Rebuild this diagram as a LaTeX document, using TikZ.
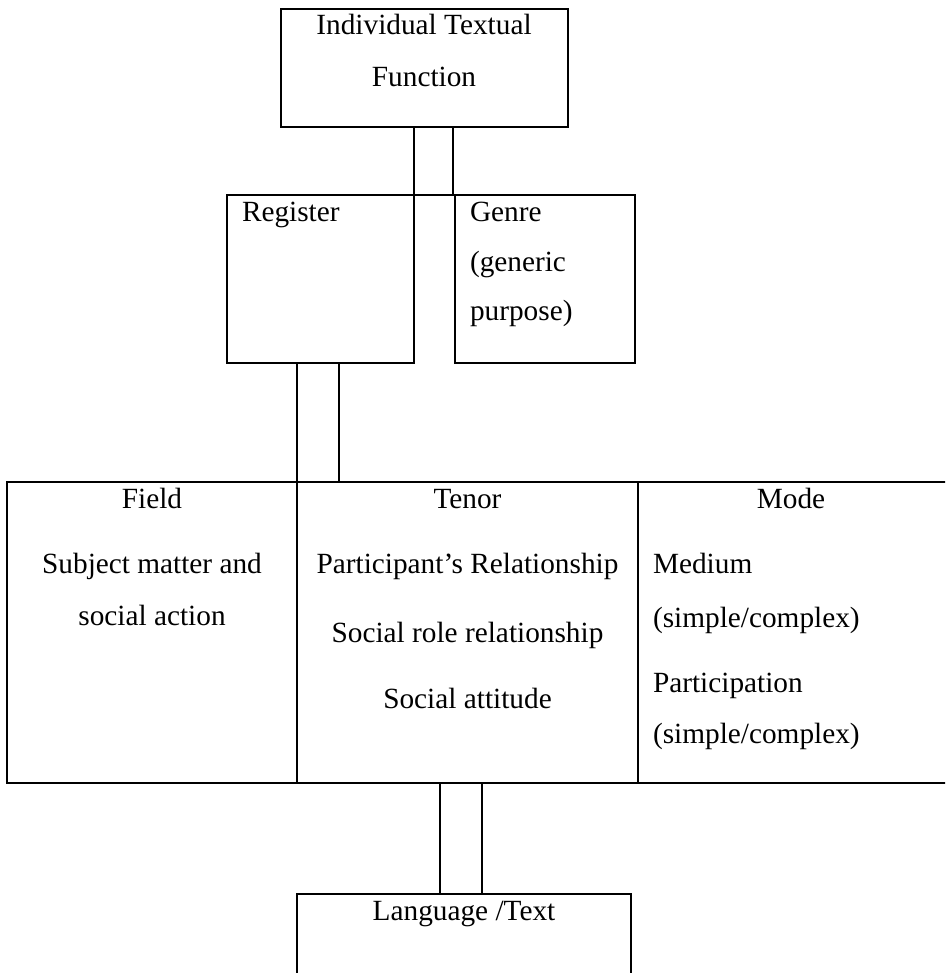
\documentclass[tikz,border=0pt]{standalone}
\usepackage{fontspec}
\setmainfont{Liberation Serif}
\begin{document}
\begin{tikzpicture}[x=1pt,y=-1pt,
  box/.style={draw, line width=1.8pt, rectangle, inner sep=0pt, outer sep=0pt, anchor=north west},
  conn/.style={line width=1.8pt},
  lbl/.style={inner sep=0pt, outer sep=0pt, font=\fontsize{29.3}{35}\selectfont},
]
\useasboundingbox (0,0) rectangle (945,973);
\clip (0,0) rectangle (945,973);
% boxes
\node[box, minimum width=287pt, minimum height=118pt] (top) at (281,9) {};
\node[box, minimum width=187pt, minimum height=168pt] (reg) at (227,195) {};
\node[box, minimum width=180pt, minimum height=168pt] (gen) at (455,195) {};
\node[box, minimum width=290pt, minimum height=301pt] (field) at (7,482) {};
\node[box, minimum width=341pt, minimum height=301pt] (tenor) at (297,482) {};
\node[box, minimum width=320pt, minimum height=301pt] (mode) at (638,482) {};
\node[box, minimum width=334pt, minimum height=100pt] (lang) at (297,894) {};
% connector coordinates
\coordinate (a1) at (414,0); \coordinate (a2) at (453,0);
\coordinate (b1) at (297,0); \coordinate (b2) at (339,0);
\coordinate (c1) at (440,0); \coordinate (c2) at (482,0);
% connectors
\draw[conn] (top.south -| a1) -- (reg.north -| a1);
\draw[conn] (top.south -| a2) -- (reg.north -| a2) -- (reg.north -| a1);
\draw[conn] (reg.south -| b1) -- (field.north -| b1);
\draw[conn] (reg.south -| b2) -- (tenor.north -| b2);
\draw[conn] (tenor.south -| c1) -- (lang.north -| c1);
\draw[conn] (tenor.south -| c2) -- (lang.north -| c2);
% texts
\node[lbl, anchor=base] (t1) at (424,35) {Individual Textual};
\node[lbl, anchor=base] (t2) at (424,87) {Function};
\node[lbl, anchor=base west] (r1) at (242,222) {Register};
\node[lbl, anchor=base west] (g1) at (470,222) {Genre};
\node[lbl, anchor=base west] (g2) at (470,272) {(generic};
\node[lbl, anchor=base west] (g3) at (470,320) {purpose)};
\node[lbl, anchor=base] (f1) at (152,508) {Field};
\node[lbl, anchor=base] (f2) at (152,573) {Subject matter and};
\node[lbl, anchor=base] (f3) at (152,625) {social action};
\node[lbl, anchor=base] (n1) at (467.5,508) {Tenor};
\node[lbl, anchor=base] (n2) at (467.5,573) {Participant’s Relationship};
\node[lbl, anchor=base] (n3) at (467.5,642) {Social role relationship};
\node[lbl, anchor=base] (n4) at (467.5,708) {Social attitude};
\node[lbl, anchor=base] (m1) at (791,508) {Mode};
\node[lbl, anchor=base west] (m2) at (653,573) {Medium};
\node[lbl, anchor=base west] (m3) at (653,627) {(simple/complex)};
\node[lbl, anchor=base west] (m4) at (653,692) {Participation};
\node[lbl, anchor=base west] (m5) at (653,743) {(simple/complex)};
\node[lbl, anchor=base] (l1) at (464,920) {Language /Text};
\end{tikzpicture}
\end{document}
